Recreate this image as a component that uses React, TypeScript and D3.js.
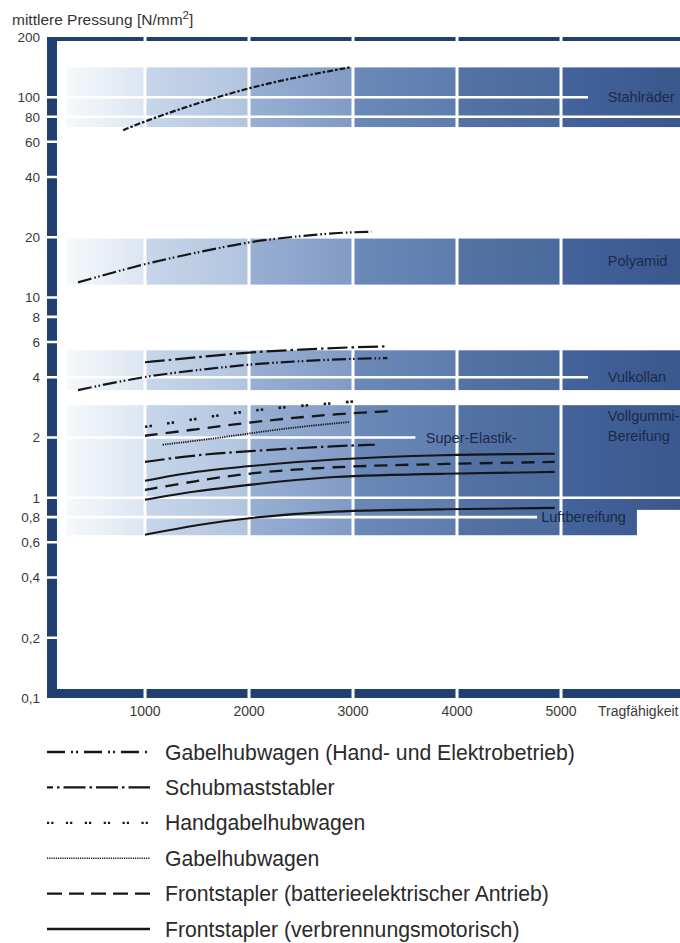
import React from 'react';
import * as d3 from 'd3';

// ---------- data ----------
const yTickValues = [0.1, 0.2, 0.4, 0.6, 0.8, 1, 2, 4, 6, 8, 10, 20, 40, 60, 80, 100, 200];
const yTickLabels = ['0,1', '0,2', '0,4', '0,6', '0,8', '1', '2', '4', '6', '8', '10', '20', '40', '60', '80', '100', '200'];
const xTickValues = [1000, 2000, 3000, 4000, 5000];
const xTickLabels = ['1000', '2000', '3000', '4000', '5000'];
const xAxisTitle = 'Tragfähigkeit';
const yAxisTitle = 'mittlere Pressung [N/mm';

// wheel material bands (kg range, pressure range)
const bandNames = ['Stahlräder', 'Polyamid', 'Vulkollan', 'Vollgummi', 'Luftbereifung'];
const bandLow = [71, 11.6, 3.45, 0.87, 0.65];
const bandHigh = [141, 19.8, 5.45, 2.9, 1.0];
const bandStartKg = [250, 250, 250, 250, 250];
const bandEndKg = [6600, 6600, 6600, 6600, 5730];

// band labels
const bandLabelTexts = ['Stahlräder', 'Polyamid', 'Vulkollan', 'Vollgummi-', 'Bereifung', 'Super-Elastik-', 'Luftbereifung'];
const bandLabelKg = [5450, 5450, 5450, 5450, 5450, 3700, 4810];
const bandLabelVal = [100, 15.2, 4, 2.56, 2.03, 2, 0.8];

// white grid lines that stop in front of a label
const gridCutValues = [100, 4, 2, 0.8];
const gridCutKg = [5260, 5260, 3600, 4770];

// curves
const stahlKg = [790, 1050, 1530, 2010, 2490, 2970];
const stahlVal = [68.5, 77.8, 94.4, 112, 127, 141];

const polyKg = [356, 1000, 1530, 2000, 2490, 2875, 3180];
const polyVal = [11.9, 14.8, 16.9, 19.0, 20.3, 21.1, 21.3];

const vulkSchubKg = [1000, 1500, 2000, 2500, 3000, 3330];
const vulkSchubVal = [4.75, 5.03, 5.33, 5.5, 5.65, 5.7];

const vulkGhKg = [356, 1000, 1500, 2000, 2500, 3000, 3330];
const vulkGhVal = [3.45, 4.05, 4.34, 4.64, 4.82, 4.95, 4.98];

const seHandKg = [1000, 1480, 1910, 2350, 2830, 3050];
const seHandVal = [2.26, 2.47, 2.68, 2.84, 2.97, 3.04];

const seBattKg = [1000, 1500, 1960, 2400, 2850, 3360];
const seBattVal = [2.04, 2.2, 2.36, 2.5, 2.62, 2.71];

const seGhKg = [1170, 1720, 2350, 2970];
const seGhVal = [1.84, 1.99, 2.23, 2.39];

const vgSchubKg = [1000, 1500, 2000, 2780, 3210];
const vgSchubVal = [1.51, 1.64, 1.71, 1.81, 1.84];

const vgVerbKg = [1000, 1500, 2000, 2780, 3850, 4940];
const vgVerbVal = [1.215, 1.36, 1.44, 1.56, 1.64, 1.66];

const vgBattKg = [1000, 1500, 2000, 2780, 3840, 4940];
const vgBattVal = [1.096, 1.215, 1.33, 1.43, 1.476, 1.51];

const vgVerb2Kg = [1000, 1500, 2000, 2780, 3840, 4940];
const vgVerb2Val = [0.977, 1.083, 1.16, 1.287, 1.316, 1.347];

const luftKg = [1000, 1500, 2000, 2780, 3840, 4940];
const luftVal = [0.654, 0.734, 0.795, 0.862, 0.875, 0.89];

const curveKg = [stahlKg, polyKg, vulkSchubKg, vulkGhKg, seHandKg, seBattKg, seGhKg, vgSchubKg, vgVerbKg, vgBattKg, vgVerb2Kg, luftKg];
const curveVal = [stahlVal, polyVal, vulkSchubVal, vulkGhVal, seHandVal, seBattVal, seGhVal, vgSchubVal, vgVerbVal, vgBattVal, vgVerb2Val, luftVal];
const curveKind = ['stahl', 'ghEH', 'schub', 'ghEH', 'hand', 'batt', 'gh', 'schub', 'solid', 'batt', 'solid', 'solid'];

// legend
const legendLabels = [
  'Gabelhubwagen (Hand- und Elektrobetrieb)',
  'Schubmaststabler',
  'Handgabelhubwagen',
  'Gabelhubwagen',
  'Frontstapler (batterieelektrischer Antrieb)',
  'Frontstapler (verbrennungsmotorisch)',
];
const legendKinds = ['ghEH', 'schub', 'hand', 'gh', 'batt', 'solid'];

// ---------- styles ----------
const W = 680;
const H = 943;
const FRAME = '#21406f';
const INK = '#161616';
const FONT = "'Liberation Sans', Arial, Helvetica, sans-serif";

const chartDash: Record<string, string> = {
  stahl: '6 2 2.5 2',
  ghEH: '14 3 1.6 2.4 1.6 3',
  schub: '20 4 2.5 4',
  hand: '2.5 2 2.5 15.5',
  gh: '1.3 1',
  batt: '13 8',
  solid: 'none',
};
const legendDash: Record<string, string> = {
  ghEH: '18 6 2 3 2 6',
  schub: '22 4 2.5 4',
  hand: '2.2 2 2.2 12.5',
  gh: '1.2 1',
  batt: '15 7',
  solid: 'none',
};
const strokeW: Record<string, number> = {
  stahl: 2.2, ghEH: 2.2, schub: 2.2, hand: 2.6, gh: 1.8, batt: 2.3, solid: 2.1,
};

// column shading (kg boundaries -> colour at left and right of each column)
const colBounds = [250, 1000, 2000, 3000, 4000, 5000, 6600];
const colLeft = ['#f6f9fc', '#c7d6ea', '#98b0d3', '#6b89b8', '#5472a4', '#44639a'];
const colRight = ['#dbe5f1', '#b1c4df', '#819ac5', '#5e7daf', '#4b6a9d', '#3a588e'];

export default function App() {
  const x = d3.scaleLinear().domain([0, 6000]).range([41, 665]);
  const y = d3.scaleLog().domain([0.1, 200]).range([698, 37]);

  const yTop = y(200);
  const yBot = y(0.1);
  const barL = 47;
  const barW = 10;

  const line = d3
    .line<[number, number]>()
    .x((d) => x(d[0]))
    .y((d) => y(d[1]))
    .curve(d3.curveBasis);

  const stops: React.ReactNode[] = [];
  colBounds.slice(0, -1).forEach((b, i) => {
    const a = x(b) / W;
    const e = x(colBounds[i + 1]) / W;
    stops.push(<stop key={`a${i}`} offset={Math.max(0, a)} stopColor={colLeft[i]} />);
    stops.push(<stop key={`b${i}`} offset={Math.min(1, e - 0.0005)} stopColor={colRight[i]} />);
  });

  const legendY = (i: number) => 752 + i * 35.4;

  return (
    <svg
      width={W}
      height={H}
      viewBox={`0 0 ${W} ${H}`}
      style={{ position: 'absolute', left: 0, top: 0, display: 'block' }}
      fontFamily={FONT}
    >
      <defs>
        <linearGradient id="bandGrad" gradientUnits="userSpaceOnUse" x1={0} x2={W} y1={0} y2={0}>
          {stops}
        </linearGradient>
      </defs>
      <rect x={0} y={0} width={W} height={H} fill="#ffffff" />

      {/* material bands */}
      {bandNames.map((n, i) => (
        <rect
          key={n}
          x={x(bandStartKg[i])}
          y={y(bandHigh[i])}
          width={Math.min(W, x(bandEndKg[i])) - x(bandStartKg[i])}
          height={y(bandLow[i]) - y(bandHigh[i])}
          fill="url(#bandGrad)"
        />
      ))}

      {/* frame bars */}
      <rect x={barL} y={yTop} width={W - barL} height={4} fill={FRAME} />
      <rect x={barL} y={yBot - 9} width={W - barL} height={9} fill={FRAME} />
      <rect x={barL} y={yTop} width={barW} height={yBot - yTop} fill={FRAME} />

      {/* white vertical grid lines (also cut the frame bars) */}
      {xTickValues.map((v) => (
        <line key={`vx${v}`} x1={x(v)} x2={x(v)} y1={yTop - 1} y2={yBot + 1} stroke="#ffffff" strokeWidth={3} />
      ))}

      {/* white horizontal grid lines (also cut the left frame bar) */}
      {yTickValues
        .filter((v) => v !== 0.1 && v !== 200)
        .map((v) => {
          const ci = gridCutValues.indexOf(v);
          const xe = ci >= 0 ? x(gridCutKg[ci]) : W;
          return <line key={`hy${v}`} x1={barL - 1} x2={xe} y1={y(v)} y2={y(v)} stroke="#ffffff" strokeWidth={2.6} />;
        })}

      {/* band labels */}
      {bandLabelTexts.map((t, i) => (
        <text
          key={t}
          x={x(bandLabelKg[i])}
          y={y(bandLabelVal[i])}
          dy="0.36em"
          fontSize={14.5}
          fill="#1b2a4a"
        >
          {t}
        </text>
      ))}

      {/* curves */}
      {curveKg.map((ks, i) => {
        const pts = ks.map((k, j) => [k, curveVal[i][j]] as [number, number]);
        const kind = curveKind[i];
        return (
          <path
            key={`c${i}`}
            d={line(pts) || ''}
            fill="none"
            stroke={INK}
            strokeWidth={strokeW[kind]}
            strokeDasharray={chartDash[kind]}
            strokeLinecap="butt"
          />
        );
      })}

      {/* y axis title */}
      <text x={12} y={25} fontSize={15.5} fill="#333">
        {yAxisTitle}
        <tspan fontSize={11.5} dy={-6}>2</tspan>
        <tspan dy={6}>]</tspan>
      </text>

      {/* y tick labels */}
      {yTickValues.map((v, i) => (
        <text key={`yl${v}`} x={40} y={y(v)} dy="0.36em" textAnchor="end" fontSize={13.5} fill="#3a3a3a">
          {yTickLabels[i]}
        </text>
      ))}

      {/* x tick labels */}
      {xTickValues.map((v, i) => (
        <text key={`xl${v}`} x={x(v)} y={yBot + 18} textAnchor="middle" fontSize={14} fill="#3a3a3a">
          {xTickLabels[i]}
        </text>
      ))}
      <text x={598} y={yBot + 18} fontSize={14} fill="#3a3a3a">
        {xAxisTitle}
      </text>

      {/* legend */}
      {legendLabels.map((t, i) => {
        const kind = legendKinds[i];
        const ly = legendY(i);
        return (
          <g key={t}>
            <line
              x1={47}
              x2={150}
              y1={ly}
              y2={ly}
              stroke={INK}
              strokeWidth={kind === 'gh' ? 1.6 : 2.3}
              strokeDasharray={legendDash[kind]}
              strokeDashoffset={kind === 'schub' ? 16 : 0}
            />
            <text x={165} y={ly} dy="0.36em" fontSize={21.2} fill="#2a2a2a">
              {t}
            </text>
          </g>
        );
      })}
    </svg>
  );
}
